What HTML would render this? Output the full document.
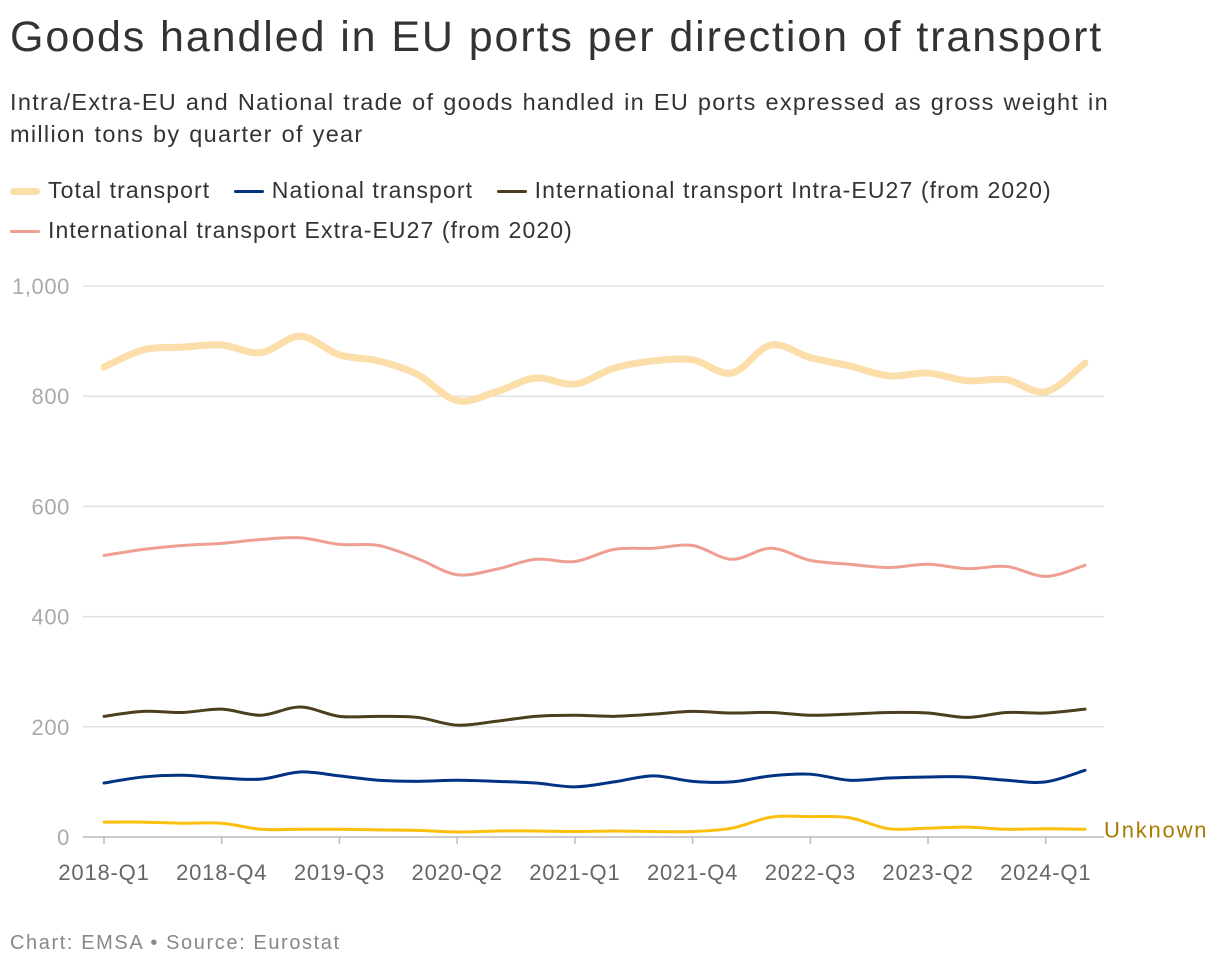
<!DOCTYPE html>
<html><head><meta charset="utf-8"><style>
body{margin:0;background:#fff;font-family:"Liberation Sans",sans-serif;color:#333;}
#wrap{position:relative;width:1220px;height:968px;overflow:hidden;}
.t{position:absolute;left:10px;}
</style></head><body>
<div id="wrap">
<div class="t" style="top:13px;font-size:43px;letter-spacing:1.9px;color:#333;">Goods handled in EU ports per direction of transport</div>
<div class="t" style="top:86px;font-size:23.5px;letter-spacing:1.3px;word-spacing:1px;line-height:32px;width:1165px;color:#333;">Intra/Extra-EU and National trade of goods handled in EU ports expressed as gross weight in million tons by quarter of year</div>
<div class="t" style="top:170px;font-size:23px;letter-spacing:1.1px;line-height:40px;width:1200px;">
<span style="margin-right:16px"><span style="display:inline-block;width:30px;height:7px;border-radius:4px;background:#fbdea9;vertical-align:middle;margin-right:8px"></span>Total transport</span>
<span style="margin-right:16px"><span style="display:inline-block;width:30px;height:3px;border-radius:2px;background:#023383;vertical-align:middle;margin-right:8px"></span>National transport</span>
<span><span style="display:inline-block;width:30px;height:3px;border-radius:2px;background:#4b3f1d;vertical-align:middle;margin-right:8px"></span>International transport Intra-EU27 (from 2020)</span><br>
<span><span style="display:inline-block;width:30px;height:3px;border-radius:2px;background:#ee9f90;vertical-align:middle;margin-right:8px"></span>International transport Extra-EU27 (from 2020)</span>
</div>
<svg id="chart" width="1220" height="968" style="position:absolute;left:0;top:0"></svg>
<div class="t" style="top:932px;font-size:20px;letter-spacing:1.6px;color:#888;">Chart: EMSA • Source: Eurostat</div>
</div>
<script>
const quarters=[];for(let y=2018;y<=2024;y++)for(let q=1;q<=4;q++){if(y===2024&&q>2)break;quarters.push(y+'-Q'+q);}
const yTicks=[0,200,400,600,800,1000];
const totalVals=[853,884,889,893,879,909,875,864,839,792,808,833,822,851,864,866,842,893,870,855,837,842,828,830,808,860];
const extraVals=[511,522,529,533,540,543,531,529,505,476,486,504,500,522,524,529,504,524,502,495,489,495,487,491,473,493];
const intraVals=[219,228,226,232,221,236,219,219,217,203,210,219,221,219,223,228,225,226,221,223,226,225,217,226,225,232];
const nationalVals=[98,109,112,107,105,118,111,103,101,103,101,98,91,100,111,101,100,111,114,103,107,109,109,103,100,121];
const unknownVals=[27,27,25,25,14,14,14,13,12,9,11,11,10,11,10,10,16,36,37,35,15,16,18,14,15,14];
const NS='http://www.w3.org/2000/svg';const svg=document.getElementById('chart');
const x0=104,x1=1085,yTop=286,yBot=837;
const xs=i=>x0+(x1-x0)*i/(quarters.length-1);
const ys=v=>yBot-(yBot-yTop)*v/1000;
function mk(t,a){const e=document.createElementNS(NS,t);for(const k in a)e.setAttribute(k,a[k]);svg.appendChild(e);return e;}
yTicks.forEach(v=>{
 const g=mk('line',{x1:83,x2:1104,y1:ys(v),y2:ys(v),stroke:v===0?'#bbb':'#e2e2e2','stroke-width':1.5});
 
 
 const t=mk('text',{x:70,y:ys(v)+8,'text-anchor':'end','font-size':22,'letter-spacing':0.6,fill:'#aaa','font-family':'Liberation Sans, sans-serif'});
 t.textContent=v.toLocaleString('en-US');
 
 
});
quarters.forEach((q,i)=>{
 if(i%3!==0)return;
 const l=mk('line',{x1:xs(i),x2:xs(i),y1:yBot,y2:yBot+7,stroke:'#bbb','stroke-width':1.5});
 
 
 const t=mk('text',{x:xs(i),y:yBot+43,'text-anchor':'middle','font-size':22,'letter-spacing':0.8,fill:'#666','font-family':'Liberation Sans, sans-serif'});
 t.textContent=q;
 
 
});
function path(vals){
 const p=vals.map((v,i)=>[xs(i),ys(v)]);let d='M'+p[0][0]+','+p[0][1];
 for(let i=0;i<p.length-1;i++){const a=p[i-1]||p[i],b=p[i],c=p[i+1],e=p[i+2]||c;
  d+=' C'+(b[0]+(c[0]-a[0])/6)+','+(b[1]+(c[1]-a[1])/6)+' '+(c[0]-(e[0]-b[0])/6)+','+(c[1]-(e[1]-b[1])/6)+' '+c[0]+','+c[1];}
 return d;}
[['total',totalVals,'#fbdea9',7],['extra',extraVals,'#ee9f90',3],['intra',intraVals,'#4b3f1d',3],['national',nationalVals,'#023383',3],['unknown',unknownVals,'#fbbf0e',3]].forEach(s=>{
 const e=mk('path',{d:path(s[1]),fill:'none',stroke:s[2],'stroke-width':s[3],'stroke-linecap':'round','stroke-linejoin':'round'});
 
 
});
const ul=mk('text',{x:1104,y:ys(unknownVals[unknownVals.length-1])+8,'font-size':22,'letter-spacing':1.8,fill:'#a87a00','font-family':'Liberation Sans, sans-serif'});
ul.textContent='Unknown';


</script>
</body></html>
